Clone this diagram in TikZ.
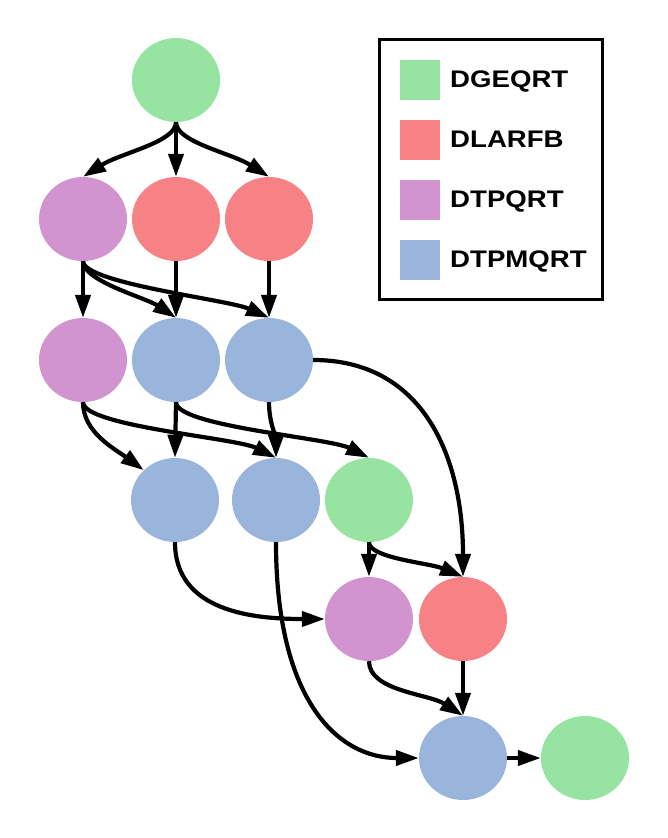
\documentclass[tikz,border=0pt]{standalone}
\usepackage{fontspec}
\setmainfont{Liberation Sans}
\usetikzlibrary{shapes.geometric,arrows.meta}

\definecolor{qrgreen}{RGB}{151,227,162}
\definecolor{qrred}{RGB}{247,130,134}
\definecolor{qrpurple}{RGB}{209,148,206}
\definecolor{qrblue}{RGB}{154,181,219}

\begin{document}
\begin{tikzpicture}
  [x=1pt,y=-1pt,
   task/.style={ellipse,minimum width=88pt,minimum height=84pt,inner sep=0pt},
   swatch/.style={minimum size=40pt,inner sep=0pt},
   lbl/.style={anchor=base west,inner sep=0pt,xscale=1.15,font=\fontsize{24}{26}\selectfont\bfseries},
   dep/.style={line width=4.2pt,-{Triangle[length=23pt,width=15pt]}}]
  \useasboundingbox (0,0) rectangle (667,838);

  \node[task,fill=qrgreen] (g0) at (176,80) {};

  \node[task,fill=qrpurple] (p1) at (83,219) {};
  \node[task,fill=qrred] (r1a) at (176,219) {};
  \node[task,fill=qrred] (r1b) at (269,219) {};

  \node[task,fill=qrpurple] (p2) at (83,360) {};
  \node[task,fill=qrblue] (b2a) at (176,360) {};
  \node[task,fill=qrblue] (b2b) at (269,360) {};

  \node[task,fill=qrblue] (b3a) at (175,500) {};
  \node[task,fill=qrblue] (b3b) at (276,500) {};
  \node[task,fill=qrgreen] (g3) at (369,500) {};

  \node[task,fill=qrpurple] (p4) at (369,619) {};
  \node[task,fill=qrred] (r4) at (463,619) {};

  \node[task,fill=qrblue] (b5) at (463,758) {};
  \node[task,fill=qrgreen] (g5) at (585,758) {};

  \draw[dep] (g0.south) .. controls +(0,20) and +(38,-24) .. (p1.north);
  \draw[dep] (g0.south) -- (r1a.north);
  \draw[dep] (g0.south) .. controls +(0,20) and +(-38,-24) .. (r1b.north);

  \draw[dep] (p1.south) -- (p2.north);
  \draw[dep] (p1.south) .. controls +(0,20) and +(-30,-20) .. (b2a.north);
  \draw[dep] (p1.south) .. controls +(0,22) and +(-40,-18) .. (b2b.north);
  \draw[dep] (r1a.south) -- (b2a.north);
  \draw[dep] (r1b.south) -- (b2b.north);

  \draw[dep] (p2.south) .. controls +(0,30) and +(-30,-22) .. (b3a.north west);
  \draw[dep] (p2.south) .. controls +(0,24) and +(-40,-20) .. (b3b.north);
  \draw[dep] (b2a.south) -- (b3a.north);
  \draw[dep] (b2a.south) .. controls +(0,24) and +(-40,-20) .. (g3.north);
  \draw[dep] (b2b.south) .. controls +(0,20) and +(0,-20) .. (b3b.north);
  \draw[dep] (b2b.east) .. controls +(110,0) and +(0,-120) .. (r4.north);

  \draw[dep] (g3.south) -- (p4.north);
  \draw[dep] (g3.south) .. controls +(0,16) and +(-34,-14) .. (r4.north);

  \draw[dep] (b3a.south) .. controls +(0,70) and +(-70,0) .. (p4.west);
  \draw[dep] (b3b.south) .. controls +(0,160) and +(-80,0) .. (b5.west);

  \draw[dep] (p4.south) .. controls +(0,30) and +(-34,-22) .. (b5.north);
  \draw[dep] (r4.south) -- (b5.north);
  \draw[dep] (b5.east) -- (g5.west);

  % legend
  \draw[line width=3pt] (379,39) rectangle (602,299);
  \node[swatch,fill=qrgreen] (s1) at (420,80) {};
  \node[swatch,fill=qrred] (s2) at (420,140) {};
  \node[swatch,fill=qrpurple] (s3) at (420,200) {};
  \node[swatch,fill=qrblue] (s4) at (420,260) {};
  \node[lbl] (t1) at (450,87) {DGEQRT};
  \node[lbl] (t2) at (450,147) {DLARFB};
  \node[lbl] (t3) at (450,207) {DTPQRT};
  \node[lbl] (t4) at (450,267) {DTPMQRT};
\end{tikzpicture}
\end{document}
